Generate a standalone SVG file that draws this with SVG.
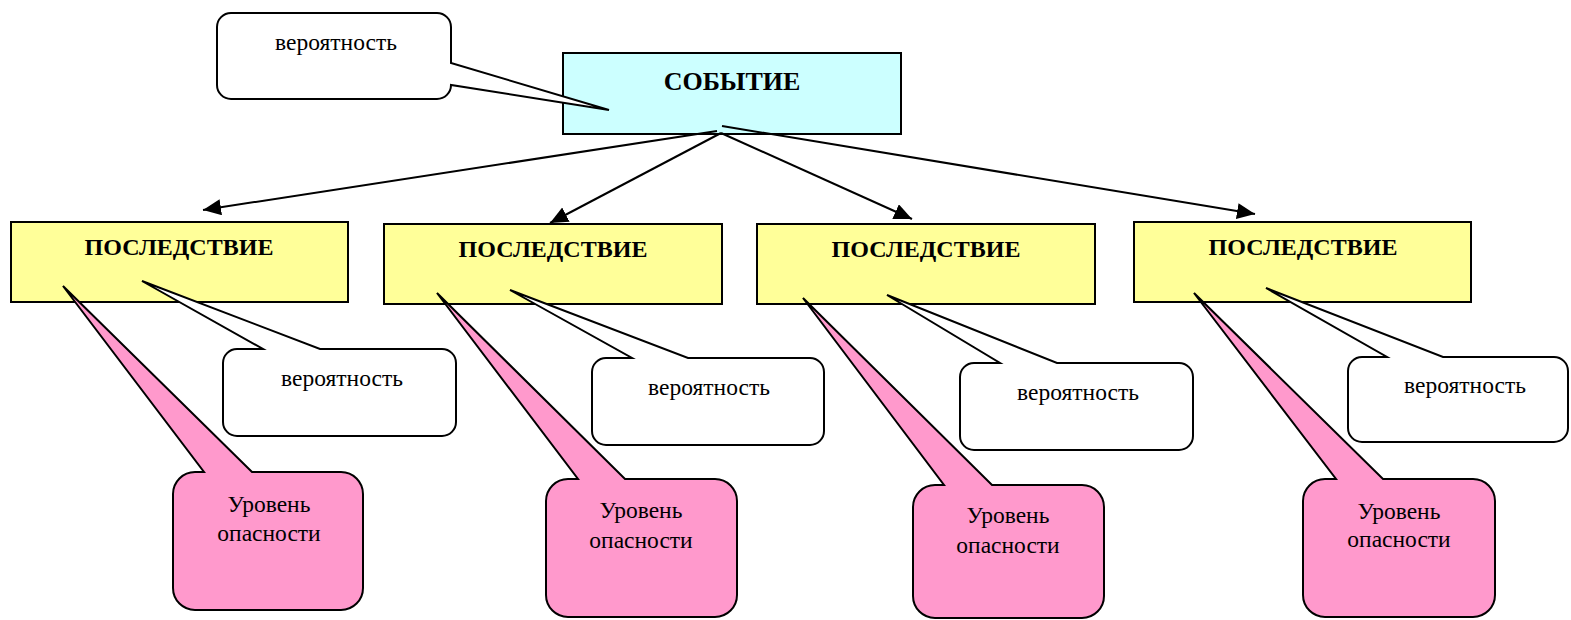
<svg xmlns="http://www.w3.org/2000/svg" width="1571" height="620" viewBox="0 0 1571 620">
<defs>
<style>
.box{stroke:#000;stroke-width:2}
.ev{fill:#CCFFFF}
.cons{fill:#FFFF99}
.prob{fill:#FFFFFF;stroke:#000;stroke-width:2;stroke-linejoin:miter}
.dang{fill:#FF99CC;stroke:#000;stroke-width:2;stroke-linejoin:miter}
.b{font-family:"Liberation Serif","Times New Roman",serif;font-weight:bold;font-size:24px;text-anchor:middle;fill:#000}
.t{font-family:"Liberation Serif","Times New Roman",serif;font-size:23.5px;text-anchor:middle;fill:#000}
.conn{stroke:#000;stroke-width:2;fill:none;marker-end:url(#ah)}
</style>
<marker id="ah" markerUnits="userSpaceOnUse" markerWidth="20" markerHeight="18" refX="18" refY="8" orient="auto">
<path d="M0,0 L18,8 L0,16 Z" fill="#000"/>
</marker>
</defs>
<rect width="1571" height="620" fill="#fff"/>

<g id="event">
<rect class="box ev" x="563" y="53" width="338" height="81"/>
<text class="b" x="732" y="90" style="font-size:26px">СОБЫТИЕ</text>
</g>

<g id="event-prob">
<path class="prob" d="M231,13 H437 A14,14 0 0 1 451,27 V63 L609,110 L451,85 A14,14 0 0 1 437,99 H231 A14,14 0 0 1 217,85 V27 A14,14 0 0 1 231,13 Z"/>
<text class="t" x="336" y="50">вероятность</text>
</g>

<g id="connectors">
<path class="conn" d="M717,131 L203,210"/>
<path class="conn" d="M721,133 L550,223"/>
<path class="conn" d="M721,133 L912,219"/>
<path class="conn" d="M722,126 L1255,214"/>
</g>

<g id="cons1">
<rect class="box cons" x="11" y="222" width="337" height="80"/>
<text class="b" x="179" y="255">ПОСЛЕДСТВИЕ</text>
</g>
<g id="cons2">
<rect class="box cons" x="384" y="224" width="338" height="80"/>
<text class="b" x="553" y="257">ПОСЛЕДСТВИЕ</text>
</g>
<g id="cons3">
<rect class="box cons" x="757" y="224" width="338" height="80"/>
<text class="b" x="926" y="257">ПОСЛЕДСТВИЕ</text>
</g>
<g id="cons4">
<rect class="box cons" x="1134" y="222" width="337" height="80"/>
<text class="b" x="1303" y="255">ПОСЛЕДСТВИЕ</text>
</g>

<g id="prob1">
<path class="prob" d="M237,349 H263 L142,281 L320,349 H442 A14,14 0 0 1 456,363 V422 A14,14 0 0 1 442,436 H237 A14,14 0 0 1 223,422 V363 A14,14 0 0 1 237,349 Z"/>
<text class="t" x="342" y="386">вероятность</text>
</g>
<g id="prob2">
<path class="prob" d="M606,358 H632 L510,290 L688,358 H810 A14,14 0 0 1 824,372 V431 A14,14 0 0 1 810,445 H606 A14,14 0 0 1 592,431 V372 A14,14 0 0 1 606,358 Z"/>
<text class="t" x="709" y="395">вероятность</text>
</g>
<g id="prob3">
<path class="prob" d="M974,363 H1000 L887,295 L1057,363 H1179 A14,14 0 0 1 1193,377 V436 A14,14 0 0 1 1179,450 H974 A14,14 0 0 1 960,436 V377 A14,14 0 0 1 974,363 Z"/>
<text class="t" x="1078" y="400">вероятность</text>
</g>
<g id="prob4">
<path class="prob" d="M1362,357 H1387 L1266,288 L1443,357 H1554 A14,14 0 0 1 1568,371 V428 A14,14 0 0 1 1554,442 H1362 A14,14 0 0 1 1348,428 V371 A14,14 0 0 1 1362,357 Z"/>
<text class="t" x="1465" y="393">вероятность</text>
</g>

<g id="danger1">
<path class="dang" d="M195,472 H204 L63,286 L252,472 H341 A22,22 0 0 1 363,494 V588 A22,22 0 0 1 341,610 H195 A22,22 0 0 1 173,588 V494 A22,22 0 0 1 195,472 Z"/>
<text class="t" x="269" y="512">Уровень</text>
<text class="t" x="269" y="541">опасности</text>
</g>
<g id="danger2">
<path class="dang" d="M568,479 H578 L437,293 L625,479 H715 A22,22 0 0 1 737,501 V595 A22,22 0 0 1 715,617 H568 A22,22 0 0 1 546,595 V501 A22,22 0 0 1 568,479 Z"/>
<text class="t" x="641" y="518">Уровень</text>
<text class="t" x="641" y="548">опасности</text>
</g>
<g id="danger3">
<path class="dang" d="M935,485 H944 L803,298 L992,485 H1082 A22,22 0 0 1 1104,507 V596 A22,22 0 0 1 1082,618 H935 A22,22 0 0 1 913,596 V507 A22,22 0 0 1 935,485 Z"/>
<text class="t" x="1008" y="523">Уровень</text>
<text class="t" x="1008" y="553">опасности</text>
</g>
<g id="danger4">
<path class="dang" d="M1325,479 H1336 L1194,293 L1383,479 H1473 A22,22 0 0 1 1495,501 V595 A22,22 0 0 1 1473,617 H1325 A22,22 0 0 1 1303,595 V501 A22,22 0 0 1 1325,479 Z"/>
<text class="t" x="1399" y="519">Уровень</text>
<text class="t" x="1399" y="547">опасности</text>
</g>
</svg>
